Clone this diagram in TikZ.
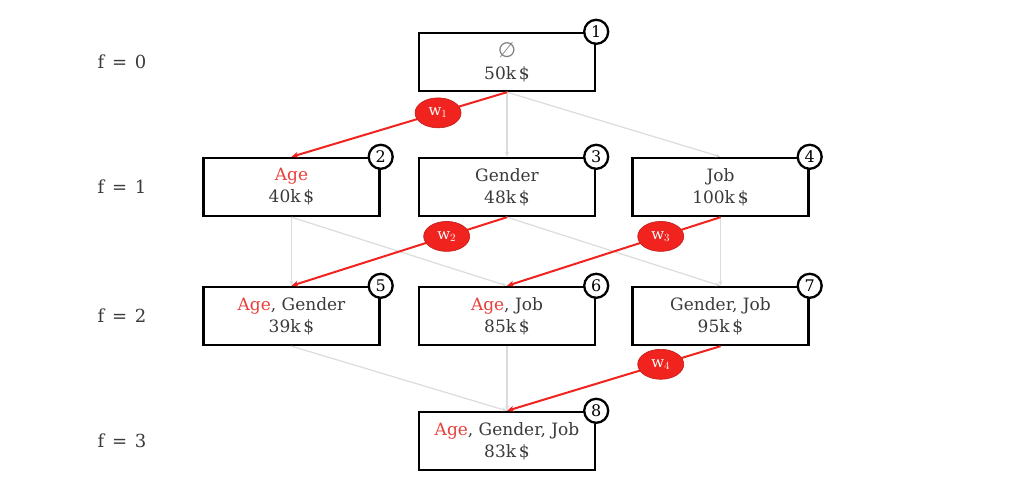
\documentclass[tikz,border=0pt]{standalone}
\usepackage{fontspec}
\setmainfont{DejaVu Serif}
\newfontfamily\symfont{DejaVu Sans}
\usetikzlibrary{arrows.meta,shapes.geometric}
\definecolor{txt}{HTML}{3A3A3A}
\definecolor{agered}{HTML}{E8413C}
\definecolor{edgered}{HTML}{F0231E}
\definecolor{edgegray}{HTML}{DCDCDC}
\begin{document}
\begin{tikzpicture}[x=1pt,y=-1pt,
  box/.style={draw=black,line width=2.4pt,minimum width=176pt,minimum height=58pt,inner sep=0pt,align=center,text=txt,font=\fontsize{17}{22}\selectfont},
  num/.style={circle,draw=black,line width=2.3pt,fill=white,minimum size=24pt,inner sep=0pt,font=\fontsize{16}{16}\selectfont},
  lvl/.style={text=txt,font=\fontsize{18}{18}\selectfont},
  gedge/.style={draw=edgegray,line width=1.2pt,-{Stealth[length=5pt,width=4pt]}},
  redge/.style={draw=edgered,line width=2pt,-{Stealth[length=7pt,width=6pt]}},
  wlab/.style={ellipse,fill=edgered,draw=edgered!80!black,line width=0.6pt,minimum width=46pt,minimum height=30pt,inner sep=0pt,text=white,font=\fontsize{15}{15}\selectfont}]
\useasboundingbox (0,0) rectangle (1014,492);
\fill[white] (0,0) rectangle (1014,492);

\node[lvl] (l0) at (122,62) {f\hspace{2pt} = \hspace{2pt}0};
\node[lvl] (l1) at (122,187) {f\hspace{2pt} = \hspace{2pt}1};
\node[lvl] (l2) at (122,316) {f\hspace{2pt} = \hspace{2pt}2};
\node[lvl] (l3) at (122,441) {f\hspace{2pt} = \hspace{2pt}3};

\node[box] (b1) at (507,62) {{\symfont\fontsize{21}{22}\selectfont\color{gray}∅}\\50k\,\$};
\node[box] (b2) at (291.5,187) {\textcolor{agered}{Age}\\40k\,\$};
\node[box] (b3) at (507,187) {Gender\\48k\,\$};
\node[box] (b4) at (720.5,187) {Job\\100k\,\$};
\node[box] (b5) at (291.5,316) {\textcolor{agered}{Age}, Gender\\39k\,\$};
\node[box] (b6) at (507,316) {\textcolor{agered}{Age}, Job\\85k\,\$};
\node[box] (b7) at (720.5,316) {Gender, Job\\95k\,\$};
\node[box] (b8) at (507,441) {\textcolor{agered}{Age}, Gender, Job\\83k\,\$};

% gray lattice edges
\draw[gedge] (b1.south) -- (b3.north);
\draw[gedge] (b1.south) -- (b4.north);
\draw[gedge] (b2.south) -- (b5.north);
\draw[gedge] (b2.south) -- (b6.north);
\draw[gedge] (b3.south) -- (b7.north);
\draw[gedge] (b4.south) -- (b7.north);
\draw[gedge] (b5.south) -- (b8.north);
\draw[gedge] (b6.south) -- (b8.north);

% red path edges
\draw[redge] (b1.south) -- node[wlab,pos=0.32] (w1) {w$_1$} (b2.north);
\draw[redge] (b3.south) -- node[wlab,pos=0.28] (w2) {w$_2$} (b5.north);
\draw[redge] (b4.south) -- node[wlab,pos=0.28] (w3) {w$_3$} (b6.north);
\draw[redge] (b7.south) -- node[wlab,pos=0.28] (w4) {w$_4$} (b8.north);

\node[num] (n1) at (b1.north east) {1};
\node[num] (n2) at (b2.north east) {2};
\node[num] (n3) at (b3.north east) {3};
\node[num] (n4) at (b4.north east) {4};
\node[num] (n5) at (b5.north east) {5};
\node[num] (n6) at (b6.north east) {6};
\node[num] (n7) at (b7.north east) {7};
\node[num] (n8) at (b8.north east) {8};
\end{tikzpicture}
\end{document}
